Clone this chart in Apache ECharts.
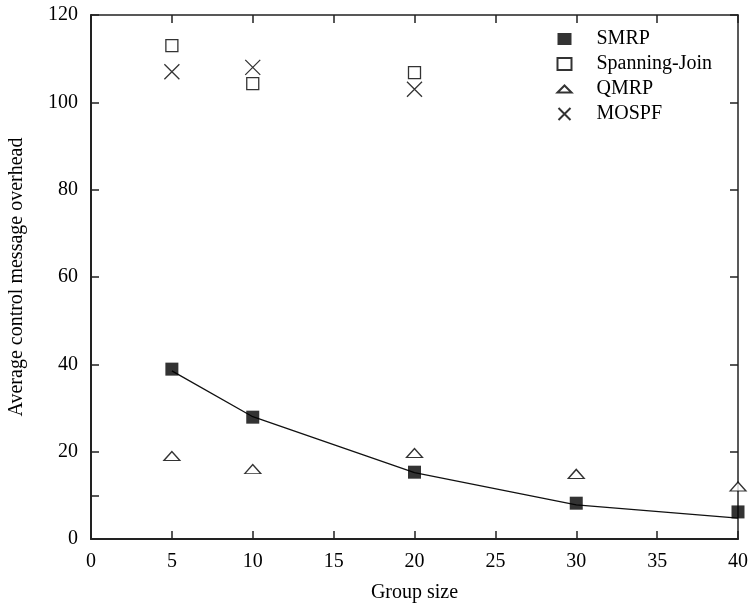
<!DOCTYPE html>
<html>
<head>
<meta charset="utf-8">
<script src="https://cdn.jsdelivr.net/npm/echarts@6/dist/echarts.min.js"></script>
<style>
html, body { margin: 0; padding: 0; background: #fff; }
#chart { width: 748px; height: 604px; }
</style>
</head>
<body>
<div id="chart"></div>
<script>
var groupSizes = [5, 10, 20, 30, 40];
var smrpValues = [38.9, 27.9, 15.3, 8.2, 6.2];
var smrpFit = [38.5, 28, 15.2, 7.8, 4.8];
var spanGroups = [5, 10, 20];
var spanValues = [113, 104.3, 106.8];
var qmrpValues = [19, 16, 19.7, 14.9, 12];
var mospfGroups = [5, 10, 20];
var mospfValues = [107, 108, 103];
var yLabels = [0, 20, 40, 60, 80, 100, 120];
var yLeftTicks = [0, 10, 20, 40, 60, 80, 100, 120];

function pairs(xs, ys) {
	return xs.map(function (x, i) { return [x, ys[i]]; });
}

var font = 'Liberation Serif';
var triPath = 'path://M0,10L10,0L20,10Z';
var crossPath = 'path://M0,0L10,10M10,0L0,10';
var tickStyle = { inside: true, length: 8, lineStyle: { color: '#222', width: 1.5 } };

var chart = echarts.init(document.getElementById('chart'));
chart.setOption({
	backgroundColor: '#fff',
	animation: false,
	textStyle: { fontFamily: font, color: '#000' },
	grid: { left: 91, right: 10, top: 15, bottom: 65, outerBoundsMode: 'none' },
	legend: {
		orient: 'vertical',
		left: 551,
		top: 24,
		itemGap: 5,
		itemWidth: 14,
		itemHeight: 12,
		textStyle: { fontFamily: font, fontSize: 20, color: '#000', padding: [0, 0, 0, 20] },
		data: [
			{ name: 'SMRP', icon: 'rect' },
			{ name: 'Spanning-Join', icon: 'rect' },
			{ name: 'QMRP', icon: triPath },
			{ name: 'MOSPF', icon: crossPath }
		]
	},
	xAxis: [{
		type: 'value', min: 0, max: 40, interval: 5,
		name: 'Group size', nameLocation: 'middle', nameGap: 44,
		nameTextStyle: { fontFamily: font, fontSize: 20, color: '#000' },
		axisLine: { lineStyle: { color: '#222', width: 2 } },
		axisTick: tickStyle,
		axisLabel: { fontFamily: font, fontSize: 20, color: '#000', margin: 13 },
		splitLine: { show: false }
	}, {
		type: 'value', min: 0, max: 40, interval: 5, position: 'top',
		axisLine: { onZero: false, lineStyle: { color: '#222', width: 1.5 } },
		axisTick: tickStyle,
		axisLabel: { show: false },
		splitLine: { show: false }
	}],
	yAxis: [{
		type: 'value', min: 0, max: 120, interval: 20,
		name: 'Average control message overhead', nameLocation: 'middle', nameGap: 64,
		nameTextStyle: { fontFamily: font, fontSize: 20, color: '#000' },
		axisLine: { show: true, lineStyle: { color: '#222', width: 2 } },
		axisTick: { show: true, inside: true, length: 8, customValues: yLeftTicks,
			lineStyle: { color: '#222', width: 1.5 } },
		axisLabel: { fontFamily: font, fontSize: 20, color: '#000', margin: 13, customValues: yLabels },
		splitLine: { show: false }
	}, {
		type: 'value', min: 0, max: 120, interval: 20, position: 'right',
		axisLine: { show: true, onZero: false, lineStyle: { color: '#222', width: 1.5 } },
		axisTick: tickStyle,
		axisLabel: { show: false },
		splitLine: { show: false }
	}],
	series: [{
		name: 'SMRP fit', type: 'line', data: pairs(groupSizes, smrpFit),
		showSymbol: false, symbol: 'none', silent: true,
		lineStyle: { color: '#111', width: 1.3 }, z: 1
	}, {
		name: 'SMRP', type: 'scatter', data: pairs(groupSizes, smrpValues),
		symbol: 'rect', symbolSize: 13,
		itemStyle: { color: '#000' }, z: 3
	}, {
		name: 'Spanning-Join', type: 'scatter', data: pairs(spanGroups, spanValues),
		symbol: 'rect', symbolSize: 12,
		itemStyle: { color: '#fff', borderColor: '#000', borderWidth: 1.3 }
	}, {
		name: 'QMRP', type: 'scatter', data: pairs(groupSizes, qmrpValues),
		symbol: triPath, symbolSize: [16, 9],
		itemStyle: { color: '#fff', borderColor: '#000', borderWidth: 1.3 }
	}, {
		name: 'MOSPF', type: 'scatter', data: pairs(mospfGroups, mospfValues),
		symbol: crossPath, symbolSize: 15,
		itemStyle: { color: 'none', borderColor: '#000', borderWidth: 1.3 }
	}]
});
</script>
</body>
</html>
